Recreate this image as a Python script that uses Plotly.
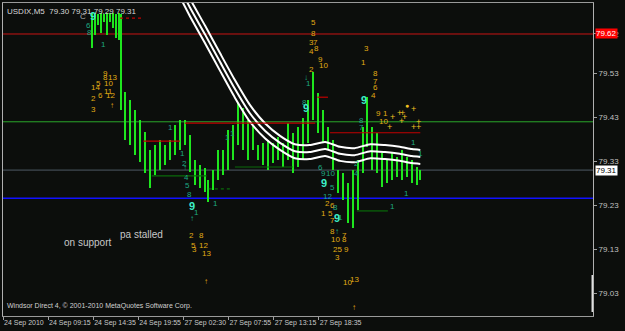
import plotly.graph_objects as go

# ---------------- data ----------------
# M5 bar index (from left edge of chart), bar high / low
bar_t = [126, 130, 135, 139, 143, 148, 152, 156, 160, 165, 167,
         173, 180, 187, 194, 201, 209, 216, 223, 230, 237, 244, 251, 258, 265,
         272, 279, 287, 291, 298, 305, 312, 319, 326, 333, 340, 348, 355, 362,
         369, 376, 383, 390, 397, 404, 411, 418, 426, 433, 440, 447, 454, 461,
         468, 475, 482, 489, 496, 504, 511, 516, 523, 531, 538, 545, 552, 559,
         566, 573, 580, 587, 592]
bar_high = [79.668, 79.668, 79.665, 79.668, 79.665, 79.668, 79.668, 79.668, 79.665, 79.668, 79.665,
            79.488, 79.470, 79.447, 79.424, 79.397, 79.356, 79.367, 79.378, 79.367, 79.378, 79.413, 79.424, 79.424, 79.390,
            79.333, 79.322, 79.315, 79.287, 79.310, 79.356, 79.356, 79.401, 79.413, 79.463, 79.451, 79.424, 79.413, 79.367,
            79.372, 79.378, 79.372, 79.385, 79.372, 79.417, 79.394, 79.408, 79.429, 79.470, 79.533, 79.486, 79.447, 79.408,
            79.378, 79.310, 79.303, 79.281, 79.310, 79.333, 79.408, 79.476, 79.408, 79.394, 79.349, 79.333, 79.349, 79.340,
            79.356, 79.340, 79.333, 79.317, 79.310]
bar_low = [79.588, 79.618, 79.640, 79.622, 79.647, 79.618, 79.647, 79.634, 79.611, 79.606, 79.447,
           79.378, 79.367, 79.344, 79.328, 79.303, 79.269, 79.299, 79.310, 79.322, 79.333, 79.344, 79.356, 79.367, 79.306,
           79.276, 79.269, 79.260, 79.237, 79.265, 79.287, 79.299, 79.310, 79.333, 79.367, 79.356, 79.333, 79.356, 79.333,
           79.322, 79.310, 79.326, 79.333, 79.317, 79.333, 79.303, 79.317, 79.333, 79.372, 79.424, 79.394, 79.372, 79.356,
           79.310, 79.258, 79.242, 79.189, 79.178, 79.219, 79.303, 79.363, 79.310, 79.303, 79.271, 79.281, 79.287, 79.294,
           79.287, 79.294, 79.281, 79.276, 79.287]

# white envelope bands
band_t = [244, 265, 287, 308, 329, 350, 372, 393, 414, 435, 457, 478, 499, 521, 542, 563, 580, 592]
band_upper = [79.767, 79.701, 79.638, 79.576, 79.515, 79.459, 79.416, 79.388, 79.369, 79.367,
              79.374, 79.363, 79.360, 79.369, 79.367, 79.363, 79.358, 79.356]
band_mid = [79.747, 79.681, 79.618, 79.556, 79.495, 79.440, 79.399, 79.372, 79.353, 79.351,
            79.358, 79.347, 79.344, 79.353, 79.351, 79.347, 79.342, 79.340]
band_lower = [79.727, 79.661, 79.598, 79.536, 79.475, 79.421, 79.382, 79.356, 79.337, 79.335,
              79.342, 79.331, 79.328, 79.337, 79.335, 79.331, 79.326, 79.324]

# full-width levels
level_red = 79.62
level_green = 79.42
level_grey = 79.31
level_blue = 79.246

# short segments (t0, t1, price)
red_segments = [(199, 251, 79.376), (258, 443, 79.417), (446, 461, 79.476), (464, 592, 79.395)]
red_dotted_segments = [(166, 197, 79.656)]
dkgreen_segments = [(211, 289, 79.297), (329, 411, 79.317), (502, 546, 79.217)]
dkgreen_dotted_segments = [(292, 325, 79.267)]

# axis labels
tick_t = [0, 64, 128, 192, 256, 320, 384, 448]
tick_labels = ["24 Sep 2010", "24 Sep 09:15", "24 Sep 14:35", "24 Sep 19:55",
               "27 Sep 02:30", "27 Sep 07:55", "27 Sep 13:15", "27 Sep 18:35"]
price_ticks = [79.62, 79.53, 79.43, 79.33, 79.23, 79.13, 79.03]
last_price = 79.31

# indicator count labels (text, t, price)
yellow_labels = [
    ("9", 146, 79.531), ("8", 145, 79.522), ("13", 156, 79.520), ("5", 136, 79.508), ("10", 149, 79.508),
    ("14", 131, 79.499), ("11", 149, 79.490), ("6", 138, 79.479), ("12", 153, 79.479), ("2", 128, 79.472),
    ("3", 129, 79.449), ("↑", 155, 79.458),
    ("2", 268, 79.160), ("8", 281, 79.162), ("5", 270, 79.139), ("12", 285, 79.139), ("3", 272, 79.130),
    ("13", 288, 79.119), ("↑", 288, 79.057),
    ("5", 440, 79.647), ("8", 440, 79.620), ("3", 438, 79.600), ("7", 443, 79.600), ("8", 445, 79.588),
    ("4", 438, 79.579), ("9", 451, 79.561), ("10", 454, 79.549), ("2", 437, 79.538), ("3", 515, 79.588),
    ("1", 511, 79.554), ("8", 529, 79.531), ("7", 528, 79.511), ("6", 528, 79.499), ("4", 525, 79.479),
    ("9", 533, 79.440), ("1", 543, 79.440), ("10", 540, 79.420),
    ("2", 460, 79.235), ("6", 467, 79.230), ("1", 454, 79.210), ("5", 464, 79.210), ("7", 468, 79.196),
    ("8", 468, 79.169), ("7", 485, 79.162), ("10", 471, 79.151), ("8", 485, 79.151), ("25", 475, 79.130),
    ("9", 487, 79.130), ("3", 475, 79.110), ("10", 489, 79.055), ("13", 499, 79.060), ("↑", 498, 78.998),
]
cross_labels = [(553, 79.431), (562, 79.440), (567, 79.440), (569, 79.431), (583, 79.449),
                (565, 79.422), (549, 79.408), (582, 79.408), (589, 79.408), (590, 79.420)]
dot_labels = [(573, 79.458)]
teal_labels = [
    ("6", 121, 79.640), ("8", 123, 79.624), ("1", 143, 79.595),
    ("1", 238, 79.408), ("1", 255, 79.347), ("2", 258, 79.326), ("↑", 258, 79.315), ("4", 261, 79.294),
    ("5", 262, 79.274), ("8", 264, 79.255), ("1", 275, 79.214), ("↑", 268, 79.199), ("1", 302, 79.235),
    ("1", 319, 79.385), ("1", 326, 79.394),
    ("↓", 430, 79.520), ("1", 434, 79.508), ("8", 428, 79.465), ("8", 509, 79.424), ("7", 509, 79.406),
    ("1", 583, 79.372), ("1", 592, 79.347),
    ("6", 450, 79.317), ("9", 454, 79.303), ("10", 465, 79.303), ("5", 468, 79.271), ("2", 502, 79.324),
    ("4", 502, 79.303), ("1", 572, 79.256), ("1", 552, 79.226), ("12", 460, 79.249), ("8", 471, 79.224),
    ("1", 479, 79.203), ("↑", 474, 79.169),
]
big_nine_labels = [(128, 79.661), (268, 79.228), (430, 79.451), (512, 79.470), (455, 79.281), (474, 79.201)]
note_labels = [("on support", 120, 79.144), ("pa stalled", 197, 79.164)]
c_label = ("C", 114, 79.659)

title_text = "USDIX,M5  79.30 79.31 79.29 79.31"
footer_text = "Windsor Direct 4, © 2001-2010 MetaQuotes Software Corp."

# ---------------- figure ----------------
BG = "#0c0e0c"
FONT = "Liberation Sans"
fig = go.Figure()

fig.add_trace(go.Bar(
    x=bar_t, base=bar_low, y=[h - l for h, l in zip(bar_high, bar_low)],
    width=3.0, marker=dict(color="#1ee61e", line=dict(width=0)), hoverinfo="skip"))

for arr in (band_upper, band_mid, band_lower):
    fig.add_trace(go.Scatter(x=band_t, y=arr, mode="lines",
                             line=dict(color="#ffffff", width=2, shape="spline", smoothing=0.6),
                             hoverinfo="skip"))

shapes = []
for p, c, w, d in [(level_red, "#c81414", 1, "solid"), (level_green, "#2aa82a", 1, "solid"),
                   (level_grey, "#4e5a64", 1, "solid"), (level_blue, "#1010ff", 1.5, "solid")]:
    shapes.append(dict(type="line", xref="paper", x0=0, x1=1, yref="y", y0=p, y1=p,
                       line=dict(color=c, width=w, dash=d), layer="below"))
for t0, t1, p in red_segments:
    shapes.append(dict(type="line", x0=t0, x1=t1, y0=p, y1=p, line=dict(color="#c00000", width=1.2)))
for t0, t1, p in red_dotted_segments:
    shapes.append(dict(type="line", x0=t0, x1=t1, y0=p, y1=p, line=dict(color="#c00000", width=1.2, dash="dot")))
for t0, t1, p in dkgreen_segments:
    shapes.append(dict(type="line", x0=t0, x1=t1, y0=p, y1=p, line=dict(color="#0a6a0a", width=1.2)))
for t0, t1, p in dkgreen_dotted_segments:
    shapes.append(dict(type="line", x0=t0, x1=t1, y0=p, y1=p, line=dict(color="#0a6a0a", width=1.2, dash="dot")))
# scale indicator at the right edge
shapes.append(dict(type="rect", xref="paper", yref="paper", x0=0.9975, x1=1.0, y0=0.013, y1=0.131,
                   fillcolor="#e0e0e0", line=dict(width=0)))

ann = []
for txt, t, p in yellow_labels:
    ann.append(dict(x=t, y=p, text=txt, showarrow=False, font=dict(family=FONT, size=8, color="#e0ac14")))
for t, p in cross_labels:
    ann.append(dict(x=t, y=p, text="+", showarrow=False, font=dict(family=FONT, size=9, color="#f0c020")))
for t, p in dot_labels:
    ann.append(dict(x=t, y=p, text="●", showarrow=False, font=dict(family=FONT, size=7, color="#f0c020")))
for txt, t, p in teal_labels:
    ann.append(dict(x=t, y=p, text=txt, showarrow=False, font=dict(family=FONT, size=8, color="#1ea882")))
for t, p in big_nine_labels:
    ann.append(dict(x=t, y=p, text="<b>9</b>", showarrow=False, font=dict(family=FONT, size=11, color="#3cf0c8")))
for txt, t, p in note_labels:
    ann.append(dict(x=t, y=p, text=txt, showarrow=False, font=dict(family=FONT, size=10, color="#c8c8c8")))
ann.append(dict(x=c_label[1], y=c_label[2], text=c_label[0], showarrow=False,
                font=dict(family=FONT, size=8, color="#b0b0b0")))
ann.append(dict(xref="paper", yref="paper", x=0.004, y=0.995, xanchor="left", yanchor="top",
                text=title_text, showarrow=False, font=dict(family=FONT, size=8, color="#d8d8d8")))
ann.append(dict(xref="paper", yref="paper", x=0.004, y=0.012, xanchor="left", yanchor="bottom",
                text=footer_text, showarrow=False, font=dict(family=FONT, size=7, color="#d0d0d0")))
# price tags on the right axis
ann.append(dict(xref="paper", x=1.0, xanchor="left", xshift=2, y=level_red, yref="y", text="79.62",
                showarrow=False, bgcolor="#ff0000", borderpad=0,
                font=dict(family=FONT, size=8, color="#ffffff")))
ann.append(dict(xref="paper", x=1.0, xanchor="left", xshift=2, y=last_price, yref="y", text="79.31",
                showarrow=False, bgcolor="#ffffff", borderpad=0,
                font=dict(family=FONT, size=8, color="#000000")))

fig.update_layout(
    width=625, height=331,
    margin=dict(l=3, r=32, t=3, b=15),
    paper_bgcolor=BG, plot_bgcolor=BG,
    showlegend=False, bargap=0,
    shapes=shapes, annotations=ann,
    xaxis=dict(range=[0, 837], showgrid=False, zeroline=False,
               tickvals=tick_t, ticktext=tick_labels, ticks="outside", ticklen=3,
               tickcolor="#a0a0a0", ticklabelposition="outside right", tickangle=0,
               tickfont=dict(family=FONT, size=7, color="#c8c8c8"),
               showline=True, linecolor="#9a9a9a", mirror=True, fixedrange=True),
    yaxis=dict(range=[78.9776, 79.6906], side="right", showgrid=False, zeroline=False,
               tickvals=price_ticks, ticktext=["%.2f" % v for v in price_ticks],
               ticks="outside", ticklen=3, tickcolor="#a0a0a0",
               tickfont=dict(family=FONT, size=8, color="#c0c0c0"),
               showline=True, linecolor="#b0b0b0", mirror=True, fixedrange=True),
)

fig.write_html("out.html")
